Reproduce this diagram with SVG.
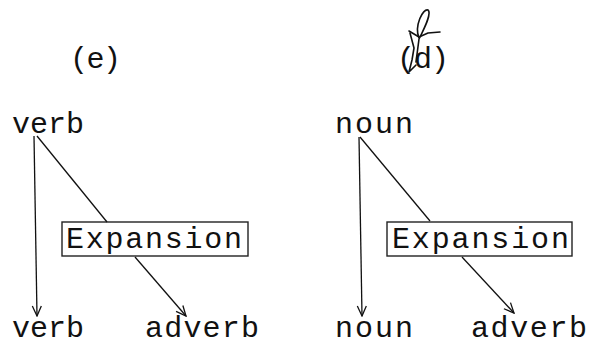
<svg xmlns="http://www.w3.org/2000/svg" width="589" height="347" viewBox="0 0 589 347">
  <style>
    .t { font-family: "Liberation Mono", "Courier New", monospace; font-size: 30px; fill: #111; }
    .edge { stroke: #111; stroke-width: 1.3; fill: none; }
    .box { stroke: #222; stroke-width: 1.4; fill: none; }
    .pen { stroke: #111; stroke-width: 1.6; fill: none; stroke-linecap: round; stroke-linejoin: round; }
  </style>
  <defs>
    <marker id="arrow" viewBox="0 0 12 12" refX="11" refY="6" markerWidth="12" markerHeight="12" markerUnits="userSpaceOnUse" orient="auto">
      <polyline points="1,1.5 11,6 1,10.5" fill="none" stroke="#111" stroke-width="1.3"/>
    </marker>
  </defs>
  <rect width="589" height="347" fill="#fff"/>

  <!-- panel labels -->
  <g id="label-e">
    <text class="t" x="70" y="68" textLength="51" lengthAdjust="spacing">(e)</text>
  </g>
  <g id="label-d">
    <text class="t" x="397" y="68" textLength="52" lengthAdjust="spacing">(d)</text>
    <!-- handwritten correction mark over the letter -->
    <path class="pen" d="M419 38 C414 26 423 8 428 10 C432 13 425 27 419 39 L416 62"/>
    <path class="pen" d="M409 31 L419 37 L428 33 L440 32"/>
    <path class="pen" d="M410 33 L414 48 L412 60 L409 72 L416 65"/>
  </g>

  <!-- left tree: verb -->
  <g id="verb-top">
    <text class="t" x="12" y="133" textLength="72" lengthAdjust="spacing">verb</text>
  </g>
  <g id="expansion-left">
    <rect class="box" x="62" y="222" width="186" height="34"/>
    <text class="t" x="66" y="248" textLength="176" lengthAdjust="spacing">Expansion</text>
  </g>
  <g id="verb-bottom">
    <text class="t" x="12" y="337" textLength="72" lengthAdjust="spacing">verb</text>
  </g>
  <g id="adverb-left">
    <text class="t" x="145" y="337" textLength="114" lengthAdjust="spacing">adverb</text>
  </g>

  <!-- right tree: noun -->
  <g id="noun-top">
    <text class="t" x="335" y="133" textLength="78" lengthAdjust="spacing">noun</text>
  </g>
  <g id="expansion-right">
    <rect class="box" x="387" y="222" width="185" height="34"/>
    <text class="t" x="392" y="248" textLength="177" lengthAdjust="spacing">Expansion</text>
  </g>
  <g id="noun-bottom">
    <text class="t" x="335" y="337" textLength="78" lengthAdjust="spacing">noun</text>
  </g>
  <g id="adverb-right">
    <text class="t" x="471" y="337" textLength="116" lengthAdjust="spacing">adverb</text>
  </g>

  <!-- connectors -->
  <g id="connectors">
    <line class="edge" x1="34" y1="136" x2="37" y2="316" marker-end="url(#arrow)"/>
    <line class="edge" x1="37" y1="136" x2="107" y2="222"/>
    <line class="edge" x1="135" y1="257" x2="186" y2="316" marker-end="url(#arrow)"/>
    <line class="edge" x1="359" y1="137" x2="362" y2="316" marker-end="url(#arrow)"/>
    <line class="edge" x1="360" y1="137" x2="430" y2="221"/>
    <line class="edge" x1="462" y1="257" x2="514" y2="313" marker-end="url(#arrow)"/>
  </g>
</svg>
